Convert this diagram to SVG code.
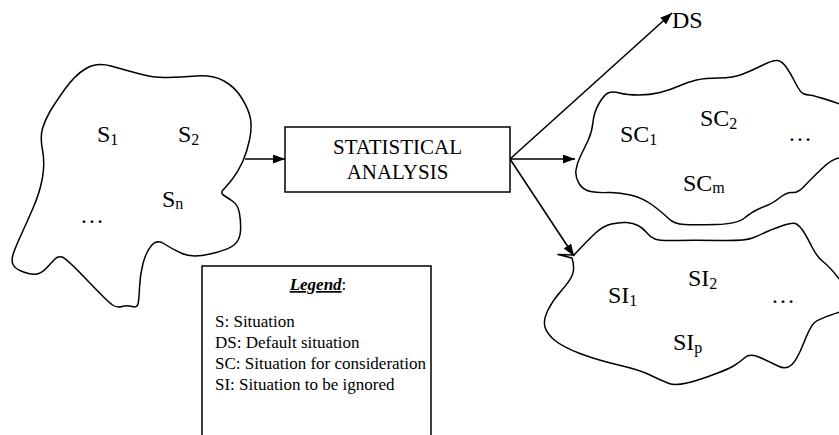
<svg xmlns="http://www.w3.org/2000/svg" width="839" height="435" viewBox="0 0 839 435">
  <style>
    .outline { fill: none; stroke: #000; stroke-width: 1.5; stroke-linejoin: round; stroke-linecap: round; }
    .link { fill: none; stroke: #000; stroke-width: 1.6; }
    .lbl { font-family: "Liberation Serif", "Times New Roman", serif; font-size: 24px; fill: #000; }
    .sub { font-size: 16px; }
    .box { fill: #fff; stroke: #000; stroke-width: 1.5; }
    .boxtxt { font-family: "Liberation Serif", "Times New Roman", serif; font-size: 21px; fill: #000; text-anchor: middle; }
    .leg { font-family: "Liberation Serif", "Times New Roman", serif; font-size: 17px; fill: #000; }
  </style>
  <defs>
    <marker id="ah" viewBox="0 0 12 9" refX="12" refY="4.5" markerWidth="12" markerHeight="9" orient="auto" markerUnits="userSpaceOnUse">
      <path d="M0,0 L12,4.5 L0,9 z" fill="#000"/>
    </marker>
  </defs>

  <!-- connectors -->
  <g id="connectors">
    <line class="link" x1="245" y1="159" x2="285" y2="159" marker-end="url(#ah)"/>
    <line class="link" x1="510" y1="159" x2="672" y2="13" marker-end="url(#ah)"/>
    <line class="link" x1="510" y1="159" x2="575" y2="159" marker-end="url(#ah)"/>
    <line class="link" x1="510" y1="159" x2="574" y2="256" marker-end="url(#ah)"/>
  </g>

  <!-- set of all situations -->
  <g id="situations">
    <path class="outline" d="M86,68.5 Q97,62 111,66 Q125,70 140,74 Q155,78 167.5,77.5 Q180,77 196.5,76 Q213,75 224,81 Q235,87 242,98.5 Q249,110 250.5,119 Q252,128 249.5,140 Q247,152 242.5,162 Q238,172 232,179.5 Q226,187 223,190 Q220,193 224,195.5 Q228,198 233,201.5 Q238,205 239.5,213.5 Q241,222 240.5,231 Q240,240 234,245 Q228,250 210,254 Q192,258 182,253.5 Q172,249 164.5,244 Q157,239 151.5,245.5 Q146,252 143,263.5 Q140,275 139.5,287.5 Q139,300 138,304 Q137,308 132,306.5 Q127,305 122,306.5 Q117,308 112.5,305 Q108,302 87,280 Q66,258 62,257 Q58,256 55,259 Q52,262 47,267.5 Q42,273 37,274 Q32,275 23.5,272 Q15,269 13,264.5 Q11,260 13.5,253 Q16,246 21.5,234 Q27,222 33.5,207 Q40,192 42.5,177.5 Q45,163 42.5,150 Q40,137 42.5,128.5 Q45,120 50,111.5 Q55,103 65,89 Q75,75 86,68.5 Z"/>
    <text class="lbl" x="97" y="142">S<tspan class="sub" dy="3">1</tspan></text>
    <text class="lbl" x="178" y="142">S<tspan class="sub" dy="3">2</tspan></text>
    <text class="lbl" x="162" y="207">S<tspan class="sub" dy="2">n</tspan></text>
    <text class="lbl" x="80" y="223">…</text>
  </g>

  <!-- analysis step -->
  <g id="analysis">
    <rect class="box" x="285" y="127" width="225" height="65"/>
    <text class="boxtxt" x="397.5" y="154">STATISTICAL</text>
    <text class="boxtxt" x="397.5" y="179">ANALYSIS</text>
  </g>

  <!-- default situation -->
  <g id="default">
    <text class="lbl" x="672" y="28" font-size="23">DS</text>
  </g>

  <!-- situations for consideration -->
  <g id="consideration">
    <path class="outline" d="M840,104 Q813,95 809.5,95 Q806,95 803,93.5 Q800,92 795.5,83 Q791,74 786.5,67.5 Q782,61 777.5,60.5 Q773,60 763,65 Q753,70 743,74 Q733,78 719,78 Q705,78 696.5,80 Q688,82 679,86 Q670,90 660,92.5 Q650,95 638.5,95 Q627,95 619.5,93 Q612,91 608,93 Q604,95 599,103.5 Q594,112 593,122 Q592,132 588.5,139.5 Q585,147 581,155 Q577,163 576,170 Q575,177 579,183.5 Q583,190 590.5,191.5 Q598,193 608,192.5 Q618,192 630.5,195 Q643,198 653,205.5 Q663,213 668.5,218.5 Q674,224 684.5,224.5 Q695,225 716,224.5 Q737,224 744.5,218 Q752,212 757.5,209.5 Q763,207 768,205 Q773,203 780,197.5 Q787,192 792.5,192.5 Q798,193 804,186.5 Q810,180 821.5,169 Q833,158 840,158"/>
    <text class="lbl" x="620" y="142">SC<tspan class="sub" dy="3">1</tspan></text>
    <text class="lbl" x="700" y="126">SC<tspan class="sub" dy="3">2</tspan></text>
    <text class="lbl" x="683" y="191">SC<tspan class="sub" dy="2">m</tspan></text>
    <text class="lbl" x="788" y="141">…</text>
  </g>

  <!-- situations to be ignored -->
  <g id="ignored">
    <path class="outline" d="M840,280 Q830,267 823.5,262 Q817,257 812,247 Q807,237 803.5,231.5 Q800,226 796.5,224 Q793,222 781.5,226 Q770,230 765,232.5 Q760,235 752.5,238 Q745,241 719,240.5 Q693,240 676.5,240.5 Q660,241 655,239 Q650,237 646.5,232.5 Q643,228 638,225.5 Q633,223 626.5,222.5 Q620,222 611.5,224 Q603,226 595.5,233 Q588,240 574,255 L558,254.5 L572,258 Q575,268 572.5,274.5 Q570,281 561.5,290.5 Q553,300 548,310 Q543,320 545,327 Q547,334 555,340.5 Q563,347 580,353.5 Q597,360 618.5,365 Q640,370 650,375 Q660,380 669,383.5 Q678,387 702.5,378.5 Q727,370 733.5,366 Q740,362 745,357.5 Q750,353 760,357.5 Q770,362 778,366 Q786,370 791.5,365 Q797,360 803.5,343.5 Q810,327 814,323 Q818,319 840,312"/>
    <text class="lbl" x="608" y="303">SI<tspan class="sub" dy="3">1</tspan></text>
    <text class="lbl" x="688" y="286">SI<tspan class="sub" dy="3">2</tspan></text>
    <text class="lbl" x="673" y="350">SI<tspan class="sub" dy="3">p</tspan></text>
    <text class="lbl" x="771" y="303">…</text>
  </g>

  <!-- legend -->
  <g id="legend">
    <path class="box" d="M202,437 L202,266 L431,266 L431,437"/>
    <text class="leg" x="318" y="290" text-anchor="middle"><tspan font-weight="bold" font-style="italic" text-decoration="underline">Legend</tspan>:</text>
    <text class="leg" x="215" y="327">S: Situation</text>
    <text class="leg" x="215" y="348">DS: Default situation</text>
    <text class="leg" x="215" y="369">SC: Situation for consideration</text>
    <text class="leg" x="215" y="390">SI: Situation to be ignored</text>
  </g>
</svg>
